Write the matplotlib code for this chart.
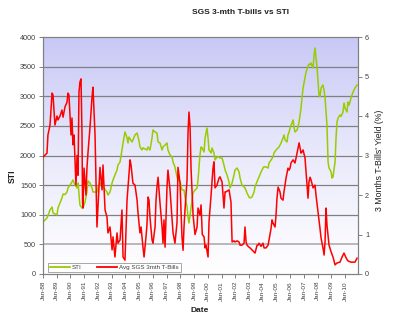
import numpy as np
import matplotlib
matplotlib.use("Agg")
import matplotlib.pyplot as plt
from matplotlib.colors import LinearSegmentedColormap
from matplotlib.lines import Line2D

plt.rcParams['font.family'] = ['Liberation Sans', 'DejaVu Sans']

# Straits Times Index (decimal year offset from Jan-1988, index level)
sti_t = [0.00, 0.29, 0.51, 0.66, 0.73, 1.02, 1.09, 1.24, 1.38, 1.46, 1.60, 1.75, 1.82, 1.97,
         2.11, 2.18, 2.33, 2.48, 2.55, 2.69, 2.84, 2.91, 3.06, 3.20, 3.28, 3.42, 3.57, 3.64,
         3.93, 4.01, 4.15, 4.37, 4.66, 4.73, 4.88, 5.03, 5.10, 5.24, 5.39, 5.46, 5.61, 5.75,
         5.83, 5.97, 6.12, 6.19, 6.26, 6.48, 6.55, 6.70, 6.85, 6.99, 7.06, 7.21, 7.28, 7.57,
         7.65, 7.79, 7.94, 8.01, 8.16, 8.30, 8.38, 8.52, 8.67, 8.74, 8.89, 9.03, 9.10, 9.25,
         9.40, 9.47, 9.61, 9.76, 9.83, 9.98, 10.12, 10.27, 10.34, 10.49, 10.56, 10.63, 10.78,
         10.93, 11.07, 11.22, 11.29, 11.43, 11.51, 11.58, 11.73, 11.80, 11.94, 12.02, 12.09,
         12.24, 12.31, 12.45, 12.53, 12.67, 12.82, 12.89, 13.04, 13.18, 13.26, 13.40, 13.55,
         13.62, 13.77, 13.91, 13.98, 14.13, 14.28, 14.35, 14.49, 14.64, 14.71, 14.86, 15.00,
         15.08, 15.22, 15.37, 15.44, 15.59, 15.73, 15.88, 16.02, 16.10, 16.24, 16.39, 16.46,
         16.61, 16.75, 16.82, 16.97, 17.12, 17.19, 17.33, 17.48, 17.55, 17.63, 17.77, 17.84,
         17.92, 18.06, 18.14, 18.21, 18.28, 18.35, 18.50, 18.57, 18.65, 18.79, 18.86, 18.94,
         19.08, 19.16, 19.30, 19.37, 19.45, 19.52, 19.67, 19.74, 19.81, 19.88, 19.96, 20.03,
         20.10, 20.17, 20.25, 20.39, 20.47, 20.54, 20.61, 20.68, 20.72, 20.76, 20.83, 20.90,
         20.98, 21.05, 21.12, 21.27, 21.34, 21.41, 21.49, 21.63, 21.70, 21.85, 21.92, 22.00,
         22.14, 22.21, 22.29, 22.43, 22.50, 22.65, 22.72, 22.87]
sti_v = [878, 945, 1080, 1130, 1030, 996, 1114, 1200, 1283, 1350, 1340, 1384, 1452, 1502,
         1553, 1587, 1502, 1452, 1536, 1165, 1114, 1114, 1215, 1384, 1570, 1536, 1452, 1384,
         1384, 1469, 1536, 1470, 1384, 1333, 1384, 1536, 1587, 1671, 1755, 1840, 1890, 2093,
         2211, 2397, 2300, 2211, 2312, 2228, 2262, 2346, 2380, 2250, 2144, 2093, 2130, 2093,
         2144, 2093, 2295, 2431, 2397, 2380, 2228, 2211, 2093, 2144, 2177, 2211, 2093, 2009,
         1975, 1890, 1806, 1637, 1587, 1560, 1418, 1418, 1300, 1131, 962, 861, 1114,
         1367, 1418, 1450, 1587, 2009, 2144, 2130, 2060, 2295, 2464, 2295, 2093,
         2042, 2127, 2042, 1924, 1975, 1975, 1958, 1958, 1840, 1755, 1671, 1553,
         1452, 1536, 1671, 1755, 1789, 1722, 1620, 1502, 1469, 1452, 1367, 1300,
         1283, 1300, 1384, 1470, 1560, 1637, 1722, 1789, 1810, 1806, 1789, 1874,
         1924, 1975, 2042, 2093, 2127, 2144, 2211, 2295, 2346, 2262, 2228, 2346,
         2397, 2515, 2549, 2600, 2480, 2397, 2430, 2481, 2566, 2802, 2971, 3140,
         3308, 3410, 3511, 3545, 3528, 3562, 3477, 3697, 3815, 3663, 3480, 3241,
         3021, 2990, 3140, 3190, 3100, 2971, 2734, 2515, 2230, 1890, 1789, 1760,
         1722, 1620, 1640, 1890, 2295, 2566, 2633, 2684, 2660, 2734, 2886, 2800,
         2734, 2903, 2850, 2971, 3021, 3106, 3140, 3190]

# Average SGS 3-month T-bill yield (decimal year offset from Jan-1988, %)
tb_t = [0.00, 0.29, 0.36, 0.51, 0.66, 0.73, 0.87, 1.02, 1.09, 1.24, 1.38, 1.46, 1.60, 1.75,
        1.82, 1.89, 2.04, 2.11, 2.18, 2.26, 2.40, 2.48, 2.55, 2.62, 2.69, 2.77, 2.84, 2.88,
        2.91, 2.99, 3.13, 3.20, 3.28, 3.42, 3.57, 3.64, 3.79, 3.93, 4.15, 4.30, 4.37, 4.52,
        4.66, 4.73, 4.88, 5.03, 5.10, 5.24, 5.39, 5.46, 5.61, 5.75, 5.83, 5.97, 6.12, 6.19,
        6.34, 6.41, 6.55, 6.70, 6.85, 6.92, 7.06, 7.14, 7.28, 7.36, 7.50, 7.57, 7.65, 7.72,
        7.79, 7.94, 8.01, 8.16, 8.23, 8.30, 8.38, 8.52, 8.67, 8.74, 8.81, 8.89, 9.03, 9.10,
        9.25, 9.40, 9.47, 9.61, 9.76, 9.83, 9.98, 10.12, 10.20, 10.27, 10.34, 10.49, 10.56,
        10.63, 10.71, 10.78, 10.93, 11.07, 11.22, 11.29, 11.43, 11.51, 11.60, 11.73, 11.80,
        11.87, 12.02, 12.09, 12.24, 12.38, 12.45, 12.53, 12.67, 12.82, 12.89, 13.04, 13.11,
        13.18, 13.26, 13.33, 13.55, 13.69, 13.77, 13.91, 13.98, 14.13, 14.28, 14.35, 14.49,
        14.64, 14.71, 14.79, 14.86, 15.00, 15.08, 15.22, 15.37, 15.44, 15.59, 15.66, 15.73,
        15.88, 16.02, 16.10, 16.24, 16.39, 16.46, 16.61, 16.68, 16.75, 16.90, 16.97, 17.04,
        17.12, 17.26, 17.33, 17.48, 17.55, 17.70, 17.84, 17.92, 17.99, 18.06, 18.21, 18.35,
        18.43, 18.57, 18.65, 18.79, 18.86, 18.94, 19.08, 19.16, 19.30, 19.37, 19.45, 19.52,
        19.67, 19.81, 19.88, 20.03, 20.17, 20.25, 20.39, 20.47, 20.54, 20.61, 20.68, 20.83,
        20.98, 21.12, 21.27, 21.41, 21.63, 21.78, 21.92, 22.07, 22.21, 22.43, 22.72, 22.87]
tb_v = [2.96, 3.06, 3.52, 3.77, 4.58, 4.53, 3.77, 4.00, 3.90, 4.00, 4.15, 3.97, 4.23, 4.35,
        4.58, 4.53, 3.52, 3.95, 3.27, 3.52, 2.25, 3.00, 2.50, 4.60, 4.86, 4.94, 3.52, 1.82,
        1.67, 2.68, 2.00, 2.68, 3.09, 3.70, 4.48, 4.73, 3.52, 1.19, 2.70, 2.13, 2.76, 1.62,
        1.44, 1.04, 1.19, 0.61, 0.94, 0.43, 1.04, 0.78, 0.86, 1.62, 0.43, 0.35, 1.87, 2.20,
        2.89, 2.76, 2.30, 2.25, 1.87, 1.55, 1.04, 1.19, 0.68, 0.43, 0.94, 1.24, 1.95, 1.87,
        1.44, 0.86, 0.78, 1.19, 1.87, 2.20, 2.45, 1.80, 1.19, 0.78, 1.37, 0.68, 2.20, 2.63,
        2.13, 1.37, 1.04, 0.78, 1.30, 2.70, 2.30, 0.94, 0.60, 1.20, 1.62, 2.38, 3.57,
        4.10, 3.72, 2.68, 1.49, 1.00, 1.19, 1.67, 1.49, 1.75, 1.00, 0.94, 0.66,
        0.73, 0.43, 1.32, 2.00, 2.68, 2.84, 2.18, 2.25, 2.43, 2.46, 2.33, 2.00,
        1.67, 2.08, 2.08, 2.13, 1.82, 0.81, 0.84, 0.81, 0.84, 0.81, 0.73, 0.73,
        0.78, 1.19, 0.81, 0.73, 0.68, 0.66, 0.61, 0.56, 0.53, 0.73, 0.73, 0.78,
        0.70, 0.78, 0.66, 0.66, 0.73, 0.86, 1.16, 1.37, 1.29, 1.19, 1.49, 1.92,
        2.20, 2.08, 1.92, 1.87, 2.08, 2.43, 2.68, 2.63, 2.68, 2.81, 2.89, 2.81,
        2.94, 3.19, 3.32, 3.06, 3.09, 3.14, 2.94, 2.58, 1.92, 2.33, 2.45, 2.38,
        2.18, 2.25, 2.00, 1.57, 1.16, 0.91, 0.66, 0.48, 0.81, 1.67, 1.24, 0.73,
        0.56, 0.43, 0.23, 0.28, 0.30, 0.43, 0.53, 0.41, 0.33, 0.30, 0.30, 0.40]

start_year = 1988
years = list(range(1988, 2011))
year_labels = ["Jan-%02d" % (y % 100) for y in years]

sti_x = np.array(sti_t) + start_year
tb_x = np.array(tb_t) + start_year

GREEN = "#99cc00"
RED = "#ff0000"
GRID = "#808080"
TXT = "#404040"

fig = plt.figure(figsize=(4.0, 3.23), dpi=100)
fig.patch.set_facecolor("white")
ax = fig.add_axes([43 / 400, 49 / 323, 315 / 400, 237 / 323])
x_end = start_year + 22.94
ax.set_xlim(start_year, x_end)
ax.set_ylim(0, 4000)

# lavender-to-white gradient plot background
cmap = LinearSegmentedColormap.from_list("bg", ["#ffffff", "#eaeafc", "#c8c8f6"])
grad = np.linspace(0, 1, 256).reshape(-1, 1)
ax.imshow(grad, extent=[start_year, x_end, 0, 4000], origin="lower", aspect="auto",
          cmap=cmap, zorder=0)

for lvl in range(500, 4000, 500):
    if lvl == 500:
        ax.axhline(lvl, color="#b8b8b8", lw=1.4, zorder=1)
    else:
        ax.axhline(lvl, color=GRID, lw=0.9, zorder=1)

ax.plot(sti_x, sti_v, color=GREEN, lw=1.1, zorder=3)

ax2 = ax.twinx()
ax2.set_ylim(0, 6)
ax2.plot(tb_x, tb_v, color=RED, lw=1.1, zorder=3)
ax2.patch.set_visible(False)

ax.set_yticks(range(0, 4001, 500))
ax.set_yticklabels([str(v) for v in range(0, 4001, 500)])
ax2.set_yticks(range(0, 7))
ax.set_xticks(years)
ax.set_xticklabels(year_labels, rotation=90)

for a in (ax, ax2):
    for s in a.spines.values():
        s.set_color(GRID)
        s.set_linewidth(0.8)
ax.tick_params(axis="y", labelsize=5.2, colors=TXT, length=3, width=0.7, pad=2,
               color=GRID)
ax.tick_params(axis="x", labelsize=4.6, colors=TXT, length=3, width=0.7, pad=2,
               color=GRID)
ax2.tick_params(axis="y", labelsize=5.2, colors=TXT, length=3, width=0.7, pad=2,
                color=GRID)

fig.text(240 / 400, 1 - 12 / 323, "SGS 3-mth T-bills vs STI", ha="center", va="center",
         fontsize=6, fontweight="bold", color="#202020")
fig.text(12 / 400, 1 - 176 / 323, "STI", rotation=90, ha="center", va="center",
         fontsize=6.2, fontweight="bold", color="#202020")
fig.text(200 / 400, 1 - 311 / 323, "Date", ha="center", va="center",
         fontsize=6, fontweight="bold", color="#202020")
fig.text(380 / 400, 1 - 160 / 323, "3 Months T-Bills' Yield (%)", rotation=90,
         ha="center", va="center", fontsize=6.3, color="#202020")

handles = [Line2D([], [], color=GREEN, lw=1.3), Line2D([], [], color=RED, lw=1.3)]
leg = ax2.legend(handles, ["STI", "Avg SGS 3mth T-Bills"], loc="lower left",
                 bbox_to_anchor=(48 / 400, 1 - 272 / 323), bbox_transform=fig.transFigure,
                 ncol=2, fontsize=4.5, frameon=True, fancybox=False, handlelength=3.2,
                 handletextpad=0.3, columnspacing=2.5, borderpad=0.3, borderaxespad=0)
leg.get_frame().set_edgecolor("#808080")
leg.get_frame().set_linewidth(0.6)
leg.get_frame().set_facecolor("white")
for t in leg.get_texts():
    t.set_color(TXT)

fig.savefig("out.png", dpi=100)
